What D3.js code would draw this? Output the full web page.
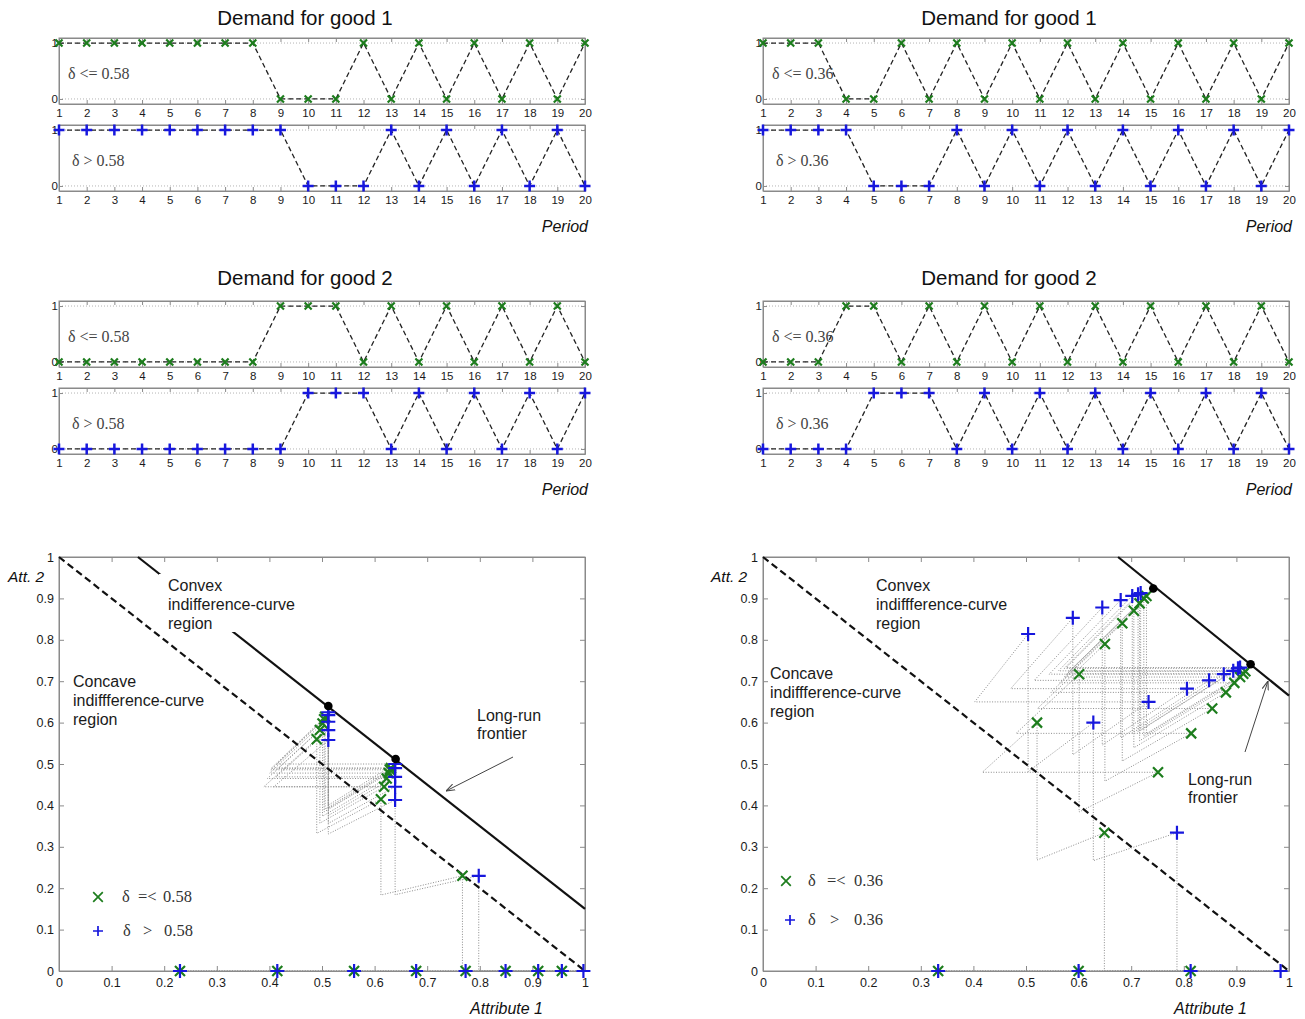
<!DOCTYPE html>
<html>
<head>
<meta charset="utf-8">
<script src="https://cdn.jsdelivr.net/npm/d3@7"></script>
<style>
body { margin: 0; background: #fff; }
svg { display: block; }
text { font-family: Arial, "Liberation Sans", sans-serif; }
</style>
</head>
<body>
<div id="chart"></div>
<script>
var width = 1305;
var height = 1019;

// periods on the demand panels
var periods = [1,2,3,4,5,6,7,8,9,10,11,12,13,14,15,16,17,18,19,20];

// demand (1 = bought) ; "lo" = delta below threshold, "hi" = above
var good1LoLeft  = [1,1,1,1,1,1,1,1,0,0,0,1,0,1,0,1,0,1,0,1];
var good1HiLeft  = [1,1,1,1,1,1,1,1,1,0,0,0,1,0,1,0,1,0,1,0];
var good2LoLeft  = [0,0,0,0,0,0,0,0,1,1,1,0,1,0,1,0,1,0,1,0];
var good2HiLeft  = [0,0,0,0,0,0,0,0,0,1,1,1,0,1,0,1,0,1,0,1];
var good1LoRight = [1,1,1,0,0,1,0,1,0,1,0,1,0,1,0,1,0,1,0,1];
var good1HiRight = [1,1,1,1,0,0,0,1,0,1,0,1,0,1,0,1,0,1,0,1];
var good2LoRight = [0,0,0,1,1,0,1,0,1,0,1,0,1,0,1,0,1,0,1,0];
var good2HiRight = [0,0,0,0,1,1,1,0,1,0,1,0,1,0,1,0,1,0,1,0];

// attribute positions, one per period
var leftLoAtt1 = [0.230,0.415,0.561,0.679,0.773,0.849,0.911,0.956,0.767,0.612,0.490,0.618,0.496,0.623,0.501,0.627,0.504,0.629,0.506,0.631];
var leftLoAtt2 = [0,0,0,0,0,0,0,0,0.230,0.415,0.560,0.445,0.582,0.465,0.598,0.478,0.608,0.486,0.614,0.490];
var leftHiAtt1 = [0.230,0.415,0.561,0.679,0.773,0.849,0.911,0.956,0.997,0.798,0.639,0.512,0.639,0.512,0.639,0.512,0.639,0.512,0.639,0.512];
var leftHiAtt2 = [0,0,0,0,0,0,0,0,0,0.230,0.413,0.558,0.445,0.582,0.469,0.602,0.490,0.618,0.500,0.625];

var rightLoAtt1 = [0.333,0.600,0.813,0.649,0.521,0.751,0.601,0.814,0.650,0.854,0.683,0.880,0.705,0.896,0.716,0.907,0.724,0.913,0.729,0.917];
var rightLoAtt2 = [0,0,0,0.334,0.600,0.480,0.717,0.574,0.790,0.634,0.840,0.673,0.870,0.696,0.888,0.710,0.900,0.718,0.906,0.724];
var rightHiAtt1 = [0.333,0.600,0.813,0.984,0.787,0.628,0.504,0.733,0.589,0.806,0.645,0.848,0.680,0.876,0.702,0.894,0.713,0.903,0.718,0.907];
var rightHiAtt2 = [0,0,0,0,0.334,0.600,0.814,0.650,0.853,0.682,0.878,0.702,0.896,0.717,0.906,0.725,0.910,0.731,0.913,0.733];

// boundary lines and long-run points
var concaveLine   = [[0,1],[1,0]];
var frontierLeft  = [[0.15,1],[1,0.15]];
var frontierRight = [[0.675,1],[1,0.665]];
var longRunLeft   = [[0.512,0.640],[0.640,0.512]];
var longRunRight  = [[0.742,0.924],[0.927,0.741]];

var attTicks = [0,0.1,0.2,0.3,0.4,0.5,0.6,0.7,0.8,0.9,1];

var green = "#1d7d1d";
var blue = "#1717dd";

var svg = d3.select("#chart")
            .append("svg")
            .attr("width", width)
            .attr("height", height);

svg.append("defs").append("marker")
    .attr("id", "arrow")
    .attr("viewBox", "0 0 10 10")
    .attr("refX", 10).attr("refY", 5)
    .attr("markerWidth", 9).attr("markerHeight", 9)
    .attr("orient", "auto")
    .append("path").attr("d", "M0,1.5L10,5L0,8.5").attr("fill", "none").attr("stroke", "#444").attr("stroke-width", 1.2);

function markPath(type, s) {
    if (type == "x") return "M" + (-s) + "," + (-s) + "L" + s + "," + s + "M" + (-s) + "," + s + "L" + s + "," + (-s);
    return "M" + (-s) + ",0H" + s + "M0," + (-s) + "V" + s;
}

function styleAxis(g, size) {
    g.selectAll(".domain").attr("stroke", "#8a8a8a");
    g.selectAll(".tick line").attr("stroke", "#8a8a8a");
    g.selectAll(".tick text").attr("fill", "#1a1a1a").style("font-size", size + "px")
        .style("font-family", "Arial, 'Liberation Sans', sans-serif");
}

function demandPanel(left, right, top, bottom, values, type, label, labelX) {
    var x = d3.scaleLinear().domain([1, 20]).range([left, right]);
    var y = d3.scaleLinear().domain([-0.09, 1.09]).range([bottom, top]);
    var g = svg.append("g");

    g.selectAll(".grid").data([0, 1]).enter().append("line")
        .attr("x1", left).attr("x2", right)
        .attr("y1", function(d){ return y(d); }).attr("y2", function(d){ return y(d); })
        .attr("stroke", "#b5b5b5").attr("stroke-dasharray", "1,2");

    g.append("rect").attr("x", left).attr("y", top).attr("width", right - left).attr("height", bottom - top)
        .attr("fill", "none").attr("stroke", "#8a8a8a");

    styleAxis(g.append("g").attr("transform", "translate(0," + bottom + ")")
        .call(d3.axisBottom(x).tickValues(periods).tickSize(-4).tickSizeOuter(0).tickPadding(5)), 11.5);
    styleAxis(g.append("g").attr("transform", "translate(0," + top + ")")
        .call(d3.axisTop(x).tickValues(periods).tickSize(-4).tickSizeOuter(0).tickFormat("")), 10);
    styleAxis(g.append("g").attr("transform", "translate(" + left + ",0)")
        .call(d3.axisLeft(y).tickValues([0, 1]).tickSize(-4).tickSizeOuter(0).tickPadding(1).tickFormat(d3.format("d"))), 11.5);
    styleAxis(g.append("g").attr("transform", "translate(" + right + ",0)")
        .call(d3.axisRight(y).tickValues([0, 1]).tickSize(-4).tickSizeOuter(0).tickFormat("")), 10);

    var line = d3.line()
        .x(function(d, i){ return x(periods[i]); })
        .y(function(d){ return y(d); });

    g.append("path").datum(values).attr("d", line)
        .attr("fill", "none").attr("stroke", "#222").attr("stroke-width", 1.3)
        .attr("stroke-dasharray", "5,3");

    g.selectAll(".pt").data(values).enter().append("path")
        .attr("transform", function(d, i){ return "translate(" + x(periods[i]) + "," + y(d) + ")"; })
        .attr("d", markPath(type, type == "x" ? 3.5 : 5.5))
        .attr("stroke", type == "x" ? green : blue)
        .attr("stroke-width", type == "x" ? 2.2 : 2.5)
        .attr("fill", "none");

    g.append("text").attr("x", labelX).attr("y", top + 41)
        .text(label)
        .style("font-family", "'Liberation Serif', 'Times New Roman', serif")
        .style("font-size", "16px").attr("fill", "#444");
}

function demandBlock(left, titleY, top1, loVals, hiVals, thr) {
    var right = left + 526;
    svg.append("text").attr("x", left + 246).attr("y", titleY).attr("text-anchor", "middle")
        .style("font-size", "20.5px").attr("fill", "#111").text(titleY < 100 ? "Demand for good 1" : "Demand for good 2");
    demandPanel(left, right, top1, top1 + 66, loVals, "x", "\u03b4 <= " + thr, left + 9);
    demandPanel(left, right, top1 + 87, top1 + 153, hiVals, "+", "\u03b4 > " + thr, left + 13);
    svg.append("text").attr("x", right + 3).attr("y", top1 + 194).attr("text-anchor", "end")
        .style("font-size", "16px").style("font-style", "italic").attr("fill", "#111").text("Period");
}

demandBlock(59, 25, 38, good1LoLeft, good1HiLeft, "0.58");
demandBlock(763, 25, 38, good1LoRight, good1HiRight, "0.36");
demandBlock(59, 285, 301, good2LoLeft, good2HiLeft, "0.58");
demandBlock(763, 285, 301, good2LoRight, good2HiRight, "0.36");

// path of the attribute point: decay toward origin, then step along the bought good
function trajectory(a1, a2, g2) {
    var pts = [];
    for (var i = 0; i < a1.length; i++) {
        pts.push([a1[i], a2[i]]);
        if (i + 1 < a1.length) {
            var k = null;
            if (g2[i + 1] == 1) k = a1[i + 1] / a1[i];
            else if (a2[i] > 0) k = a2[i + 1] / a2[i];
            if (k !== null) pts.push([a1[i] * k, a2[i] * k]);
        }
    }
    return pts;
}

function textBlock(g, x, y, lines, gap, bg) {
    var t = g.append("g");
    lines.forEach(function(s, i){
        t.append("text").attr("x", x).attr("y", y + i * gap).text(s)
            .style("font-size", "16px").attr("fill", "#1a1a1a");
    });
    if (bg) {
        var b = t.node().getBBox();
        t.insert("rect", "text").attr("x", b.x - 9).attr("y", b.y - 3)
            .attr("width", b.width + 12).attr("height", b.height + 3).attr("fill", "#fff");
    }
}

function scatterPanel(o) {
    var left = o.left, right = o.left + 526, top = 557, bottom = 971;
    var x = d3.scaleLinear().domain([0, 1]).range([left, right]);
    var y = d3.scaleLinear().domain([0, 1]).range([bottom, top]);
    var g = svg.append("g");
    var line = d3.line().x(function(d){ return x(d[0]); }).y(function(d){ return y(d[1]); });
    var fmt = function(d){ return String(d); };

    g.append("rect").attr("x", left).attr("y", top).attr("width", right - left).attr("height", bottom - top)
        .attr("fill", "none").attr("stroke", "#8a8a8a");
    styleAxis(g.append("g").attr("transform", "translate(0," + bottom + ")")
        .call(d3.axisBottom(x).tickValues(attTicks).tickSize(-5).tickSizeOuter(0).tickPadding(7).tickFormat(fmt)), 12.5);
    styleAxis(g.append("g").attr("transform", "translate(0," + top + ")")
        .call(d3.axisTop(x).tickValues(attTicks).tickSize(-5).tickSizeOuter(0).tickFormat("")), 12);
    styleAxis(g.append("g").attr("transform", "translate(" + left + ",0)")
        .call(d3.axisLeft(y).tickValues(attTicks).tickSize(-5).tickSizeOuter(0).tickPadding(5).tickFormat(fmt)), 12.5);
    styleAxis(g.append("g").attr("transform", "translate(" + right + ",0)")
        .call(d3.axisRight(y).tickValues(attTicks).tickSize(-5).tickSizeOuter(0).tickFormat("")), 12);

    // dotted paths
    o.series.forEach(function(s){
        g.append("path").datum(trajectory(s.a1, s.a2, s.g2)).attr("d", line)
            .attr("fill", "none").attr("stroke", "#8c8c8c").attr("stroke-width", 1)
            .attr("stroke-dasharray", "1,1.6");
    });

    g.append("path").datum(concaveLine).attr("d", line)
        .attr("fill", "none").attr("stroke", "#111").attr("stroke-width", 2.2).attr("stroke-dasharray", "7,4");
    g.append("path").datum(o.frontier).attr("d", line)
        .attr("fill", "none").attr("stroke", "#111").attr("stroke-width", 2.2);

    textBlock(g, o.convex[0], o.convex[1], ["Convex", o.convexWord, "region"], 19, o.convexBg);
    textBlock(g, o.concave[0], o.concave[1], ["Concave", "indiffference-curve", "region"], 19, false);
    textBlock(g, o.longRun[0], o.longRun[1], ["Long-run", "frontier"], 18, false);

    g.append("line").attr("x1", o.arrow[0]).attr("y1", o.arrow[1]).attr("x2", o.arrow[2]).attr("y2", o.arrow[3])
        .attr("stroke", "#444").attr("stroke-width", 1).attr("marker-end", "url(#arrow)");

    o.series.forEach(function(s){
        g.selectAll(null).data(s.a1).enter().append("path")
            .attr("transform", function(d, i){ return "translate(" + x(d) + "," + y(s.a2[i]) + ")"; })
            .attr("d", markPath(s.type, s.type == "x" ? 5 : 7))
            .attr("stroke", s.type == "x" ? green : blue)
            .attr("stroke-width", 2.2)
            .attr("fill", "none");
    });

    g.selectAll(".dot").data(o.dots).enter().append("circle")
        .attr("cx", function(d){ return x(d[0]); }).attr("cy", function(d){ return y(d[1]); })
        .attr("r", 4.3).attr("fill", "#000");

    // legend
    var serif = "'Liberation Serif', 'Times New Roman', serif";
    o.legend.forEach(function(l){
        g.append("path").attr("transform", "translate(" + l.mx + "," + l.my + ")")
            .attr("d", markPath(l.type, l.type == "x" ? 4.8 : 5))
            .attr("stroke", l.type == "x" ? green : blue).attr("stroke-width", 1.7).attr("fill", "none");
        [["\u03b4", 0], [l.op, l.opX], [o.thr, o.valX]].forEach(function(p){
            g.append("text").attr("x", l.tx + p[1]).attr("y", l.my + 5).text(p[0])
                .style("font-family", serif).style("font-size", "16.5px").attr("fill", "#333");
        });
    });

    g.append("text").attr("x", o.attLab[0]).attr("y", o.attLab[1]).text("Att. 2")
        .style("font-size", "15.5px").style("font-style", "italic").attr("fill", "#111");
    g.append("text").attr("x", right - 42).attr("y", 1014).attr("text-anchor", "end").text("Attribute 1")
        .style("font-size", "16px").style("font-style", "italic").attr("fill", "#111");
}

scatterPanel({
    left: 59, thr: "0.58", valX: 41, frontier: frontierLeft, dots: longRunLeft,
    series: [
        {a1: leftLoAtt1, a2: leftLoAtt2, g2: good2LoLeft, type: "x"},
        {a1: leftHiAtt1, a2: leftHiAtt2, g2: good2HiLeft, type: "+"}
    ],
    convex: [168, 591], convexWord: "indifference-curve", convexBg: true,
    concave: [73, 687], longRun: [477, 721],
    arrow: [513, 757, 446, 791],
    legend: [
        {type: "x", mx: 98, my: 897, tx: 122, op: "=<", opX: 16},
        {type: "+", mx: 98, my: 931, tx: 123, op: ">", opX: 20}
    ],
    attLab: [8, 582]
});

scatterPanel({
    left: 763, thr: "0.36", valX: 46, frontier: frontierRight, dots: longRunRight,
    series: [
        {a1: rightLoAtt1, a2: rightLoAtt2, g2: good2LoRight, type: "x"},
        {a1: rightHiAtt1, a2: rightHiAtt2, g2: good2HiRight, type: "+"}
    ],
    convex: [876, 591], convexWord: "indiffference-curve", convexBg: false,
    concave: [770, 679], longRun: [1188, 785],
    arrow: [1245, 752, 1268, 681],
    legend: [
        {type: "x", mx: 786, my: 881, tx: 808, op: "=<", opX: 19},
        {type: "+", mx: 790, my: 920, tx: 808, op: ">", opX: 22}
    ],
    attLab: [711, 582]
});
</script>
</body>
</html>
